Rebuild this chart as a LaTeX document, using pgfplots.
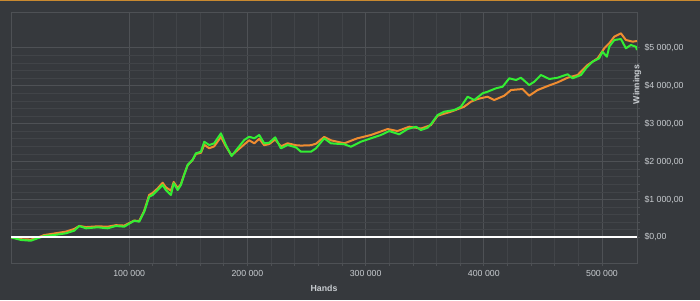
\documentclass[border=0pt]{standalone}
\usepackage{pgfplots}
\pgfplotsset{compat=1.18}
\usepackage{pgfplotstable}
\usepackage{fontspec}
\setmainfont{Liberation Sans}
\definecolor{bg}{HTML}{36393D}
\definecolor{gmaj}{HTML}{4E5155}
\definecolor{gmin}{HTML}{414448}
\definecolor{topbar}{HTML}{C98A30}
\definecolor{lbl}{HTML}{C8CCD0}
\definecolor{orng}{HTML}{F08C30}
\definecolor{grn}{HTML}{33EE33}
% x in thousands of hands, y in dollars
\pgfplotstableread{
x y
0 0
8.4 -70
16.8 -90
22.5 -26
28.1 34
36.5 60
46.4 105
53.5 175
57.7 298
63.4 237
73.3 264
81.7 237
88.7 298
95.8 280
104.2 438
108.5 412
112.7 675
116.9 1070
119.8 1116
124 1248
128.3 1380
131 1248
135.3 1116
137.6 1425
141 1248
143.7 1380
146.5 1644
149.4 1908
153.6 2040
156.4 2216
160.7 2258
163.5 2522
167.7 2435
171.9 2480
177.6 2744
181.8 2435
186.6 2145
191.7 2348
197.3 2567
201.5 2654
205.8 2612
210 2699
214.2 2480
218.4 2496
223.5 2638
228.3 2348
234 2435
241 2374
245.3 2258
253.7 2258
258 2348
265 2612
270.6 2480
282 2454
287.6 2390
296 2522
304.5 2612
313 2700
320 2804
328.4 2717
335.5 2857
342.6 2918
346.8 2831
352.5 2892
355.2 2981
360.9 3227
366.5 3314
375 3359
380.6 3446
386.3 3710
391.9 3623
399 3800
403.2 3842
410.2 3931
415.9 3974
421.5 4195
427.2 4150
431.4 4211
438.4 4018
442.7 4106
448.3 4283
455.4 4177
462.4 4211
470.9 4301
475.1 4195
482.2 4283
486.4 4459
492 4633
497.6 4723
500.4 4897
504.1 4765
506.1 5029
510.4 5206
516 5232
520.2 4987
524.4 5074
528.7 5029
529.6 4942
}\green
\pgfplotstableread{
x y
0 0
8.4 -50
16.8 -60
22.5 -10
28.1 60
36.5 100
46.4 150
53.5 220
57.7 300
63.4 270
73.3 290
81.7 280
88.7 320
95.8 310
104.2 440
108.5 430
112.7 700
116.9 1120
119.8 1170
124 1290
128.3 1440
131 1320
135.3 1230
137.6 1460
141 1300
143.7 1400
146.5 1660
149.4 1900
153.6 2040
156.4 2200
160.7 2230
163.5 2440
167.7 2350
171.9 2400
177.6 2650
181.8 2400
186.6 2160
191.7 2300
197.3 2450
201.5 2560
205.8 2480
210 2600
214.2 2430
218.4 2460
223.5 2580
228.3 2400
234 2480
241 2430
245.3 2420
253.7 2430
258 2470
265 2650
270.6 2560
282 2480
293 2612
304.5 2700
318.6 2857
327 2804
336.9 2918
346.8 2870
355.2 2960
360.9 3210
372.2 3314
383.4 3446
389.1 3578
394.8 3650
403.2 3710
408.8 3623
417.3 3736
423 3886
432.8 3913
438.4 3736
445.5 3886
454 3992
462.4 4088
470.9 4211
479.4 4283
487.8 4546
496.3 4723
501.9 4987
506.1 5119
510.4 5294
516 5382
520.2 5206
525.9 5162
529.6 5180
}\orange
\begin{document}
\begin{tikzpicture}[x=1bp,y=1bp]
\fill[bg] (0,0) rectangle (700,300);
\fill[topbar] (0,298.5) rectangle (700,300);
\begin{axis}[
  at={(11bp,37bp)}, anchor=south west,
  scale only axis, width=626bp, height=251bp,
  xmin=0, xmax=529.6, ymin=-678, ymax=5945,
  axis background/.style={fill=bg},
  axis line style={gmaj, line width=0.8bp},
  xtick={100,200,300,400,500},
  xticklabels={100 000,200 000,300 000,400 000,500 000},
  ytick={0,1000,2000,3000,4000,5000},
  yticklabels={\$0{,}00,\$1 000{,}00,\$2 000{,}00,\$3 000{,}00,\$4 000{,}00,\$5 000{,}00},
  minor x tick num=4, minor y tick num=4,
  grid=both,
  major grid style={gmaj, line width=0.8bp},
  minor grid style={gmin, line width=0.6bp},
  tick align=outside,
  major tick length=3bp, minor tick length=3bp,
  tick style={gmaj, line width=0.8bp},
  xtick pos=bottom, ytick pos=right,
  yticklabel pos=right,
  ticklabel style={font=\fontsize{8.8}{10}\selectfont, text=lbl},
  xticklabel style={yshift=-1bp},
  yticklabel style={xshift=1bp},
  /pgf/number format/assume math mode=true,
  xlabel={Hands}, ylabel={Winnings},
  label style={font=\fontsize{8.8}{10}\selectfont\bfseries, text=lbl},
  xlabel style={at={(axis description cs:0.5,0)}, anchor=center, yshift=-25bp},
  ylabel style={at={(axis description cs:1,0.5)}, anchor=center, xshift=53bp, rotate=0},
  clip=true,
]
\addplot[orng, line width=2bp, line join=round] table[x=x,y=y] {\orange};
\addplot[grn, line width=2bp, line join=round] table[x=x,y=y] {\green};
\addplot[white, line width=2bp] coordinates {(0,0) (529.6,0)};
\end{axis}
\end{tikzpicture}
\end{document}
